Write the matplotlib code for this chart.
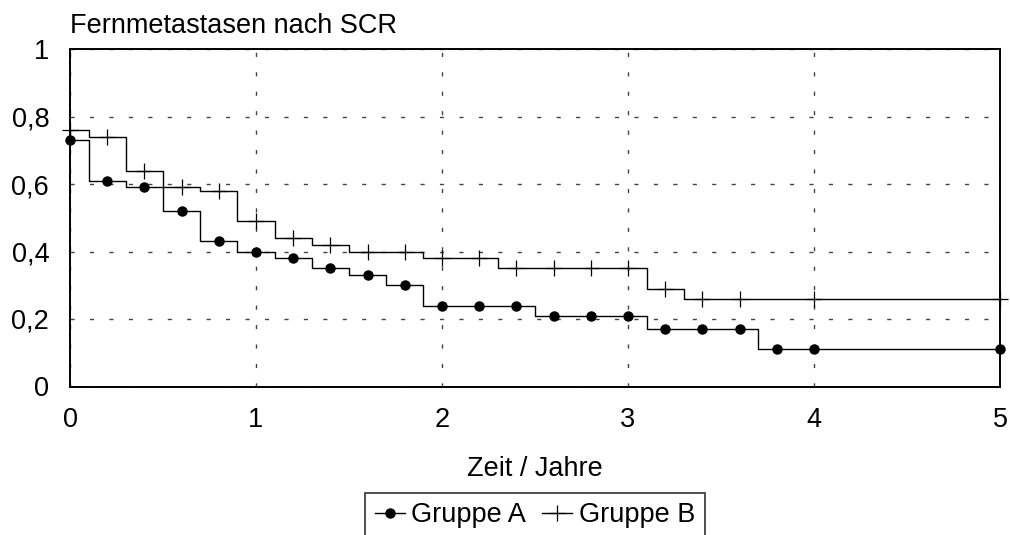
import matplotlib
matplotlib.use('Agg')
import matplotlib.pyplot as plt

# ---- data ----
title = "Fernmetastasen nach SCR"
xlabel = "Zeit / Jahre"
series_names = ["Gruppe A", "Gruppe B"]

xA = [0, 0.2, 0.4, 0.6, 0.8, 1.0, 1.2, 1.4, 1.6, 1.8, 2.0, 2.2, 2.4, 2.6, 2.8,
      3.0, 3.2, 3.4, 3.6, 3.8, 4.0, 5.0]
yA = [0.73, 0.61, 0.59, 0.52, 0.43, 0.40, 0.38, 0.35, 0.33, 0.30, 0.24, 0.24,
      0.24, 0.21, 0.21, 0.21, 0.17, 0.17, 0.17, 0.11, 0.11, 0.11]

xB = [0, 0.2, 0.4, 0.6, 0.8, 1.0, 1.2, 1.4, 1.6, 1.8, 2.0, 2.2, 2.4, 2.6, 2.8,
      3.0, 3.2, 3.4, 3.6, 4.0, 5.0]
yB = [0.76, 0.74, 0.64, 0.59, 0.58, 0.49, 0.44, 0.42, 0.40, 0.40, 0.38, 0.38,
      0.35, 0.35, 0.35, 0.35, 0.29, 0.26, 0.26, 0.26, 0.26]

xticks = [0, 1, 2, 3, 4, 5]
xticklabels = ["0", "1", "2", "3", "4", "5"]
yticks = [0, 0.2, 0.4, 0.6, 0.8, 1.0]
yticklabels = ["0", "0,2", "0,4", "0,6", "0,8", "1"]

# ---- plot ----
plt.rcParams['font.family'] = ['Liberation Sans', 'DejaVu Sans']
W, H = 1010, 535
fig = plt.figure(figsize=(W / 100, H / 100), dpi=100)
ax = fig.add_axes([70 / W, 1 - 386.5 / H, 930 / W, (386.5 - 49) / H])

ax.plot(xA, yA, drawstyle='steps-mid', color='black', lw=1.0,
        marker='o', markersize=6.5, markerfacecolor='black',
        markeredgecolor='black', clip_on=False, zorder=3,
        label=series_names[0])
ax.plot(xB, yB, drawstyle='steps-mid', color='black', lw=1.0,
        marker='+', markersize=11, markeredgewidth=0.9,
        clip_on=False, zorder=3, label=series_names[1])

ax.set_xlim(0, 5)
ax.set_ylim(0, 1)
ax.set_xticks(xticks)
ax.set_xticklabels(xticklabels)
ax.set_yticks(yticks)
ax.set_yticklabels(yticklabels)
ax.tick_params(axis='both', length=0, labelsize=19.5)
ax.tick_params(axis='x', pad=15)
ax.tick_params(axis='y', pad=15)

ax.grid(True, color='#444444', lw=1.0, linestyle=(0, (3, 11)))
ax.set_axisbelow(True)
for s in ax.spines.values():
    s.set_linewidth(1.4)
    s.set_color('black')

fig.text(70 / W, 1 - 33 / H, title, fontsize=19.5, ha='left', va='baseline')
ax.set_xlabel(xlabel, fontsize=19.5, labelpad=16)

leg = ax.legend(loc='upper center', bbox_to_anchor=(535 / W, 1 - 493 / H),
                bbox_transform=fig.transFigure, ncol=2, fontsize=19.5,
                frameon=True, fancybox=False, edgecolor='black',
                handlelength=1.1, handletextpad=0.25, columnspacing=0.6,
                borderpad=0.35, borderaxespad=0)
leg.get_frame().set_linewidth(1.2)

fig.savefig('out.png', dpi=100)
